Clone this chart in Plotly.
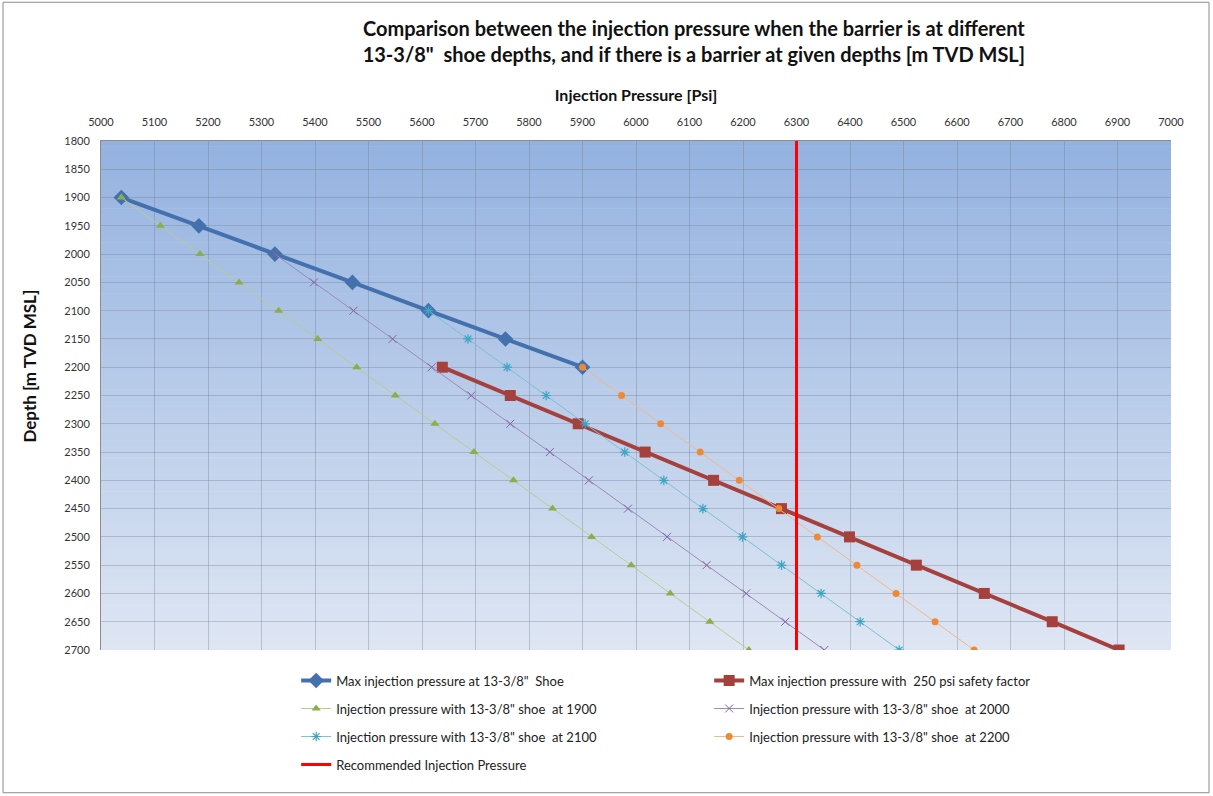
import plotly.graph_objects as go

# Depths [m TVD MSL]
depth_shoe = [1900, 1950, 2000, 2050, 2100, 2150, 2200]
depth_sf = [2200, 2250, 2300, 2350, 2400, 2450, 2500, 2550, 2600, 2650, 2700]
depth_1900 = [1900, 1950, 2000, 2050, 2100, 2150, 2200, 2250, 2300, 2350,
              2400, 2450, 2500, 2550, 2600, 2650, 2700]
depth_2000 = [2000, 2050, 2100, 2150, 2200, 2250, 2300, 2350, 2400, 2450,
              2500, 2550, 2600, 2650, 2700]
depth_2100 = [2100, 2150, 2200, 2250, 2300, 2350, 2400, 2450, 2500, 2550,
              2600, 2650, 2700]
depth_2200 = [2200, 2250, 2300, 2350, 2400, 2450, 2500, 2550, 2600, 2650, 2700]

# Injection pressures [psi]
p_shoe = [5038, 5183, 5325, 5470, 5612, 5756, 5900]
p_sf = [5638, 5765, 5892, 6017, 6145, 6272, 6399, 6524, 6651, 6778, 6903]
p_1900 = [5038, 5111, 5185, 5258, 5332, 5405, 5478, 5550, 5624, 5697,
          5771, 5844, 5917, 5991, 6064, 6138, 6211]
p_2000 = [5325, 5398, 5472, 5545, 5618, 5692, 5765, 5839, 5912, 5985,
          6058, 6132, 6206, 6279, 6352]
p_2100 = [5612, 5686, 5759, 5832, 5905, 5979, 6052, 6125, 6199, 6272,
          6346, 6419, 6492]
p_2200 = [5900, 5973, 6046, 6120, 6193, 6267, 6339, 6413, 6486, 6559, 6632]

recommended_p = 6300
recommended_depths = [1800, 2700]

x_ticks = list(range(5000, 7001, 100))
y_ticks = list(range(1800, 2701, 50))

FONT = "Lato, 'Open Sans', Arial, sans-serif"

fig = go.Figure()

fig.add_trace(go.Scatter(
    x=p_shoe, y=depth_shoe, mode="lines+markers",
    name="Max injection pressure at 13-3/8\"  Shoe",
    line=dict(color="#4371AE", width=4),
    marker=dict(symbol="diamond", size=12, color="#4371AE"),
    legend="legend",
))
fig.add_trace(go.Scatter(
    x=p_sf, y=depth_sf, mode="lines+markers",
    name="Max injection pressure with  250 psi safety factor",
    line=dict(color="#A6403D", width=4),
    marker=dict(symbol="square", size=11, color="#A6403D"),
    legend="legend",
))
fig.add_trace(go.Scatter(
    x=p_1900, y=depth_1900, mode="lines+markers",
    name="Injection pressure with 13-3/8\" shoe  at 1900",
    line=dict(color="#B9CC8E", width=1),
    marker=dict(symbol="triangle-up", size=8, color="#8BAE4A"),
    legend="legend2",
))
fig.add_trace(go.Scatter(
    x=p_2000, y=depth_2000, mode="lines+markers",
    name="Injection pressure with 13-3/8\" shoe  at 2000",
    line=dict(color="#9C8AB8", width=1),
    marker=dict(symbol="x-thin-open", size=8, color="#8064A2",
                line=dict(width=1, color="#8064A2")),
    legend="legend2",
))
fig.add_trace(go.Scatter(
    x=p_2100, y=depth_2100, mode="lines+markers",
    name="Injection pressure with 13-3/8\" shoe  at 2100",
    line=dict(color="#7CC0D4", width=1),
    marker=dict(symbol="asterisk-open", size=8, color="#3DA5C2",
                line=dict(width=1.2, color="#3DA5C2")),
    legend="legend3",
))
fig.add_trace(go.Scatter(
    x=p_2200, y=depth_2200, mode="lines+markers",
    name="Injection pressure with 13-3/8\" shoe  at 2200",
    line=dict(color="#EDB98A", width=1),
    marker=dict(symbol="circle", size=7, color="#EE8A35"),
    legend="legend3",
))
fig.add_trace(go.Scatter(
    x=[recommended_p, recommended_p], y=recommended_depths, mode="lines",
    name="Recommended Injection Pressure",
    line=dict(color="#FF0000", width=3),
    legend="legend4",
))

# Vertical gradient behind the plot area (drawn below the grid)
shapes = []
n_bands = 90
top_c = (148, 178, 224)
bot_c = (222, 230, 243)
for i in range(n_bands):
    t = i / (n_bands - 1)
    c = tuple(round(top_c[k] + (bot_c[k] - top_c[k]) * t) for k in range(3))
    shapes.append(dict(
        type="rect", xref="paper", yref="paper",
        x0=0, x1=1, y0=1 - (i + 1) / n_bands, y1=1 - i / n_bands + 0.001,
        fillcolor=f"rgb{c}", line=dict(width=0), layer="below",
    ))
# Outer chart frame
shapes.append(dict(
    type="rect", xref="paper", yref="paper",
    x0=-98 / 1070, x1=1 + 38 / 1070, y0=-143 / 510, y1=1 + 139 / 510,
    line=dict(color="#8C8C8C", width=1), fillcolor="rgba(0,0,0,0)",
    layer="below",
))

legend_common = dict(
    orientation="h", entrywidth=368, entrywidthmode="pixels",
    font=dict(family=FONT, size=13, color="#222222"),
    bgcolor="rgba(0,0,0,0)", xanchor="left", yanchor="middle",
    itemwidth=30, tracegroupgap=0,
)
leg_x = 0.1824

fig.update_layout(
    width=1213, height=796,
    margin=dict(l=101, r=42, t=141, b=146, autoexpand=False),
    paper_bgcolor="white",
    plot_bgcolor="rgba(0,0,0,0)",
    shapes=shapes,
    title=dict(
        text="Comparison between the injection pressure when the barrier is at different<br>"
             "13-3/8\"  shoe depths, and if there is a barrier at given depths [m TVD MSL]",
        x=0.572, xanchor="center", y=0.955, yanchor="middle",
        font=dict(family=FONT, size=20, color="#111111", weight="bold"),
    ),
    xaxis=dict(
        side="top", range=[5000, 7000], tickvals=x_ticks,
        ticks="", tickfont=dict(family=FONT, size=11, color="#333333"),
        showgrid=True, gridcolor="rgba(110,120,140,0.35)", gridwidth=1,
        showline=True, linecolor="#8C8C8C", linewidth=1, mirror=False,
        zeroline=False, ticklabelstandoff=10,
        title=dict(text="Injection Pressure [Psi]",
                   font=dict(family=FONT, size=16, color="#111111", weight="bold"),
                   standoff=8),
    ),
    yaxis=dict(
        range=[2700, 1800], tickvals=y_ticks,
        ticks="", tickfont=dict(family=FONT, size=11, color="#333333"),
        showgrid=True, gridcolor="rgba(110,120,140,0.35)", gridwidth=1,
        showline=True, linecolor="#8C8C8C", linewidth=1,
        zeroline=False, ticklabelstandoff=8,
    ),
    annotations=[dict(
        text="Depth [m TVD MSL]", textangle=-90,
        xref="paper", yref="paper", x=-71 / 1070, y=1 - (367 - 141) / 510,
        xanchor="center", yanchor="middle", showarrow=False,
        font=dict(family=FONT, size=17, color="#111111", weight="bold"),
    )],
    legend=dict(**legend_common, x=leg_x, y=-0.06),
    legend2=dict(**legend_common, x=leg_x, y=-0.115),
    legend3=dict(**legend_common, x=leg_x, y=-0.17),
    legend4=dict(**legend_common, x=leg_x, y=-0.225),
    showlegend=True,
)

fig.write_html("out.html")
